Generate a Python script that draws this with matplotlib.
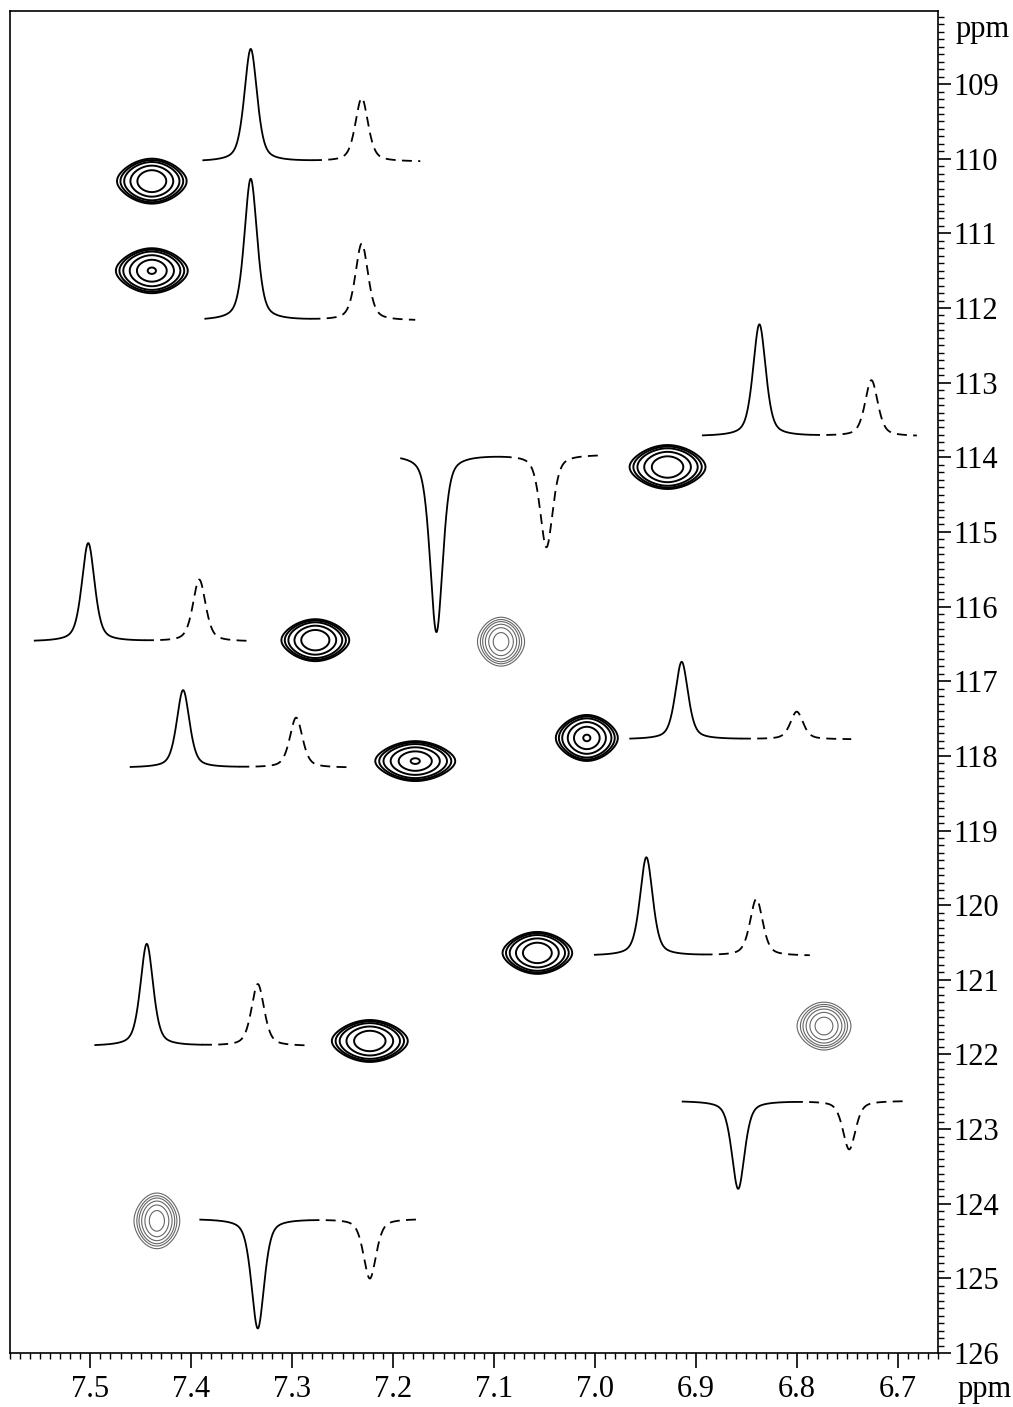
import numpy as np
import matplotlib
matplotlib.use("Agg")
import matplotlib.pyplot as plt
from matplotlib.ticker import FixedLocator, MultipleLocator, FormatStrFormatter

plt.rcParams["font.family"] = ["Liberation Serif", "DejaVu Serif"]

# -----------------------------
# cross peaks (1H ppm, 15N ppm)
# -----------------------------
peak_h = [7.439, 7.439, 7.277, 7.093, 7.178, 7.008, 6.928, 7.057, 7.223, 6.773, 7.434]
peak_n = [110.30, 111.50, 116.45, 116.47, 118.07, 117.76, 114.13, 120.64, 121.82, 121.62, 124.23]
peak_gh = [0.0155, 0.0160, 0.0151, 0.0105, 0.0178, 0.0138, 0.0169, 0.0155, 0.0169, 0.0120, 0.0102]
peak_sn = [0.134, 0.134, 0.125, 0.138, 0.119, 0.137, 0.131, 0.125, 0.125, 0.135, 0.157]
peak_dot = [False, True, False, False, True, True, False, False, False, False, False]
peak_neg = [False, False, False, True, False, False, False, False, False, True, True]

# -----------------------------
# 1D slices drawn next to the cross peaks
# start / end (1H ppm), baseline, solid peak, dashed peak (position, top)
# -----------------------------
tr_start = [7.388, 7.386, 6.893, 7.192, 7.555, 7.460, 6.965, 7.000, 7.495, 6.913, 7.391]
tr_end = [7.173, 7.178, 6.681, 6.993, 7.339, 7.245, 6.746, 6.787, 7.284, 6.695, 7.175]
tr_base = [110.04, 112.17, 113.72, 113.96, 116.47, 118.16, 117.78, 120.68, 121.89, 122.62, 124.20]
tr_p1 = [7.341, 7.341, 6.837, 7.157, 7.502, 7.408, 6.914, 6.949, 7.444, 6.858, 7.334]
tr_top1 = [108.53, 110.27, 112.22, 116.34, 115.15, 117.12, 116.74, 119.36, 120.52, 123.80, 125.67]
tr_p2 = [7.231, 7.231, 6.726, 7.048, 7.392, 7.296, 6.800, 6.840, 7.334, 6.748, 7.223]
tr_top2 = [109.19, 111.14, 112.97, 115.20, 115.64, 117.49, 117.41, 119.92, 121.06, 123.27, 125.00]

fig = plt.figure(figsize=(10.13, 14.07), dpi=100)
ax = fig.add_axes([0.0094, 0.0384, 0.9166, 0.9538])


def voigt(x, x0, g, eta=0.5):
    # pseudo-Voigt line shape (eta = Lorentzian fraction)
    u = (x - x0) / g
    return eta / (1.0 + u ** 2) + (1 - eta) * np.exp(-0.5 * (u / 0.85) ** 2)


# contours
for h, n, gh, sn, dot, neg in zip(peak_h, peak_n, peak_gh, peak_sn, peak_dot, peak_neg):
    xs = np.linspace(h - 0.08, h + 0.08, 300)
    ys = np.linspace(n - 0.7, n + 0.7, 300)
    X, Y = np.meshgrid(xs, ys)
    gy = np.exp(-0.5 * ((Y - n) / sn) ** 2)
    if neg:
        Z = voigt(X, h, gh, 0.2) * gy
        ax.contour(X, Y, Z, levels=[0.06, 0.1, 0.15, 0.24, 0.4, 0.68],
                   colors="0.4", linewidths=0.8)
    else:
        Z = voigt(X, h, gh, 0.35) * gy
        lv = [0.08, 0.11, 0.16, 0.3, 0.55]
        if dot:
            lv.append(0.95)
        ax.contour(X, Y, Z, levels=lv, colors="black", linewidths=1.4)

# slices
hw = 0.0075
for s, e, b, p1, t1, p2, t2 in zip(tr_start, tr_end, tr_base, tr_p1, tr_top1, tr_p2, tr_top2):
    x = np.linspace(s, e, 500)
    y = b + (t1 - b) * voigt(x, p1, hw) + (t2 - b) * voigt(x, p2, hw)
    mid = (s + e) / 2
    solid = x >= mid
    ax.plot(x[solid], y[solid], color="black", lw=1.3)
    ax.plot(x[~solid], y[~solid], color="black", lw=1.3, dashes=(5.5, 3.5))

ax.set_xlim(7.58, 6.66)
ax.set_ylim(126, 108.02)

ax.xaxis.set_major_locator(FixedLocator([7.5, 7.4, 7.3, 7.2, 7.1, 7.0, 6.9, 6.8, 6.7]))
ax.xaxis.set_major_formatter(FormatStrFormatter("%.1f"))
ax.xaxis.set_minor_locator(MultipleLocator(0.01))
ax.yaxis.set_major_locator(FixedLocator(list(range(109, 127))))
ax.yaxis.set_major_formatter(FormatStrFormatter("%d"))
ax.yaxis.set_minor_locator(MultipleLocator(0.1))

ax.tick_params(axis="x", which="major", direction="out", length=11, width=1.2,
               pad=5, labelsize=22, top=False)
ax.tick_params(axis="x", which="minor", direction="out", length=4.5, width=1.0, top=False)
ax.tick_params(axis="y", which="major", direction="out", length=9.5, width=1.2,
               pad=1.5, labelsize=22, left=False, right=True,
               labelleft=False, labelright=True)
ax.tick_params(axis="y", which="minor", direction="out", length=4, width=1.0,
               left=False, right=True)
for sp in ax.spines.values():
    sp.set_linewidth(1.2)

fig.text(0.943, 0.9787, "ppm", fontsize=22, ha="left", va="center")
fig.text(0.972, 0.0125, "ppm", fontsize=22, ha="center", va="center")

fig.savefig("out.png", dpi=100)
